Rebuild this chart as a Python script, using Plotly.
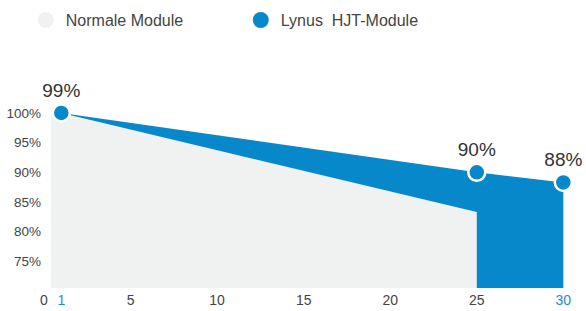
import plotly.graph_objects as go

# Data
normal_years = [0.4, 1, 25]
normal_values = [100, 100, 83.3]
lynus_years = [1, 25, 30]
lynus_values = [100, 90, 88.3]
lynus_labels = ["99%", "90%", "88%"]
x_tickvals = [0, 1, 5, 10, 15, 20, 25, 30]
x_ticktext = ["0", "<span style='color:#1a8fd0'>1</span>", "5", "10", "15", "20", "25",
              "<span style='color:#1a8fd0'>30</span>"]
y_tickvals = [100, 95, 90, 85, 80, 75]
y_ticktext = ["100%", "95%", "90%", "85%", "80%", "75%"]

BLUE = "#0788cb"
GREY = "#f0f1f1"
FONT = "Liberation Sans, Arial, sans-serif"

fig = go.Figure()

# blue area under Lynus line
fig.add_trace(go.Scatter(
    x=lynus_years, y=lynus_values, mode="lines", fill="tozeroy",
    fillcolor=BLUE, line=dict(color=BLUE, width=0), showlegend=False, hoverinfo="skip"))

# grey area for normal modules
fig.add_trace(go.Scatter(
    x=normal_years, y=normal_values, mode="lines", fill="tozeroy",
    fillcolor=GREY, line=dict(color=GREY, width=0), showlegend=False, hoverinfo="skip"))

# markers with labels
fig.add_trace(go.Scatter(
    x=lynus_years, y=lynus_values, mode="markers+text",
    marker=dict(size=17, color=BLUE, line=dict(color="white", width=2.5)),
    text=lynus_labels, textposition="top center",
    textfont=dict(size=19, color="#333", family=FONT),
    showlegend=False, cliponaxis=False))

# legend entries
fig.add_trace(go.Scatter(
    x=[None], y=[None], mode="markers", name="Normale Module",
    marker=dict(size=17, color=GREY)))
fig.add_trace(go.Scatter(
    x=[None], y=[None], mode="markers", name="Lynus\u00a0 HJT-Module",
    marker=dict(size=17, color=BLUE)))

fig.update_layout(
    width=586, height=311,
    margin=dict(l=44, r=14, t=75, b=23, autoexpand=False),
    paper_bgcolor="white", plot_bgcolor="white",
    font=dict(family=FONT, color="#444"),
    legend=dict(orientation="h", xref="container", yref="container",
                x=0.044, y=0.99, xanchor="left", yanchor="top",
                font=dict(size=16, color="#444"),
                entrywidth=170, entrywidthmode="pixels"),
    xaxis=dict(range=[0, 30.5], tickvals=x_tickvals, ticktext=x_ticktext,
               showgrid=False, zeroline=False, showline=False, automargin=False,
               tickfont=dict(size=14, color="#444"), ticks="", ticklabelstandoff=2),
    yaxis=dict(range=[70.5, 106.4], tickvals=y_tickvals, ticktext=y_ticktext,
               showgrid=False, zeroline=False, showline=False, automargin=False,
               tickfont=dict(size=13.5, color="#444"), ticks="", ticklabelstandoff=2),
)

fig.write_html("out.html", config={"displayModeBar": False},
               post_script="document.body.style.margin='0';document.body.style.overflow='hidden';")
